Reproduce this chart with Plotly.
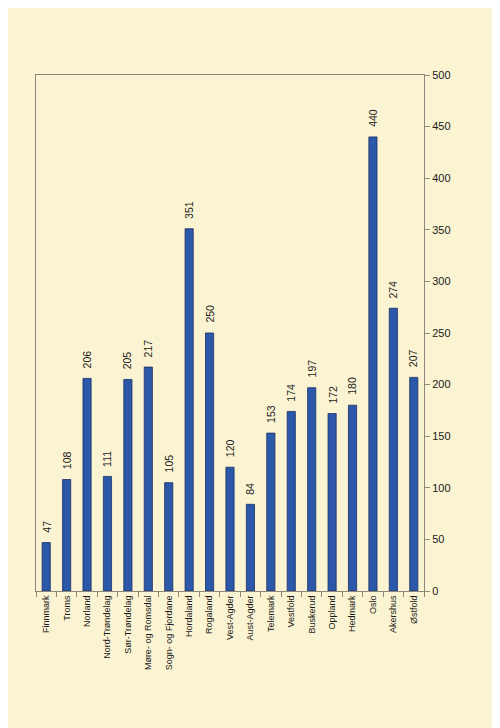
import plotly.graph_objects as go

categories = ["Finnmark", "Troms", "Norland", "Nord-Trøndelag", "Sør-Trøndelag",
              "Møre- og Romsdal", "Sogn- og Fjordane", "Hordaland", "Rogaland",
              "Vest-Agder", "Aust-Agder", "Telemark", "Vestfold", "Buskerud",
              "Oppland", "Hedmark", "Oslo", "Akershus", "Østfold"]
values = [47, 108, 206, 111, 205, 217, 105, 351, 250, 120, 84, 153, 174, 197,
          172, 180, 440, 274, 207]
y_ticks = [0, 50, 100, 150, 200, 250, 300, 350, 400, 450, 500]

bg = "#FAF4D3"
axis_col = "#8E887A"
font_family = "Liberation Sans, Arial"

fig = go.Figure(go.Bar(
    x=categories, y=values,
    marker=dict(color="#2B58A8", line=dict(color="#1A2F66", width=0.8)),
    width=0.4,
))

for c, v in zip(categories, values):
    fig.add_annotation(
        x=c, y=v, text=str(v), textangle=-90, showarrow=False,
        yanchor="bottom", xanchor="center", yshift=8,
        font=dict(family=font_family, size=10.5, color="#1a1a1a"),
    )

fig.update_layout(
    width=500, height=728,
    margin=dict(l=28, r=84, t=67, b=145),
    paper_bgcolor=bg, plot_bgcolor=bg,
    showlegend=False,
    xaxis=dict(
        tickangle=-90, tickfont=dict(family=font_family, size=9, color="#1a1a1a"),
        showline=True, linecolor=axis_col, linewidth=1, mirror=True,
        ticks="outside", ticklen=5, tickcolor=axis_col, tickson="boundaries",
        showgrid=False,
    ),
    yaxis=dict(
        side="right", range=[0, 500], tickvals=y_ticks,
        tickfont=dict(family=font_family, size=11, color="#1a1a1a"),
        showline=True, linecolor=axis_col, linewidth=1, mirror=True,
        ticks="outside", ticklen=5, tickcolor=axis_col,
        showgrid=False, zeroline=False,
    ),
)

fig.write_html("out.html")
